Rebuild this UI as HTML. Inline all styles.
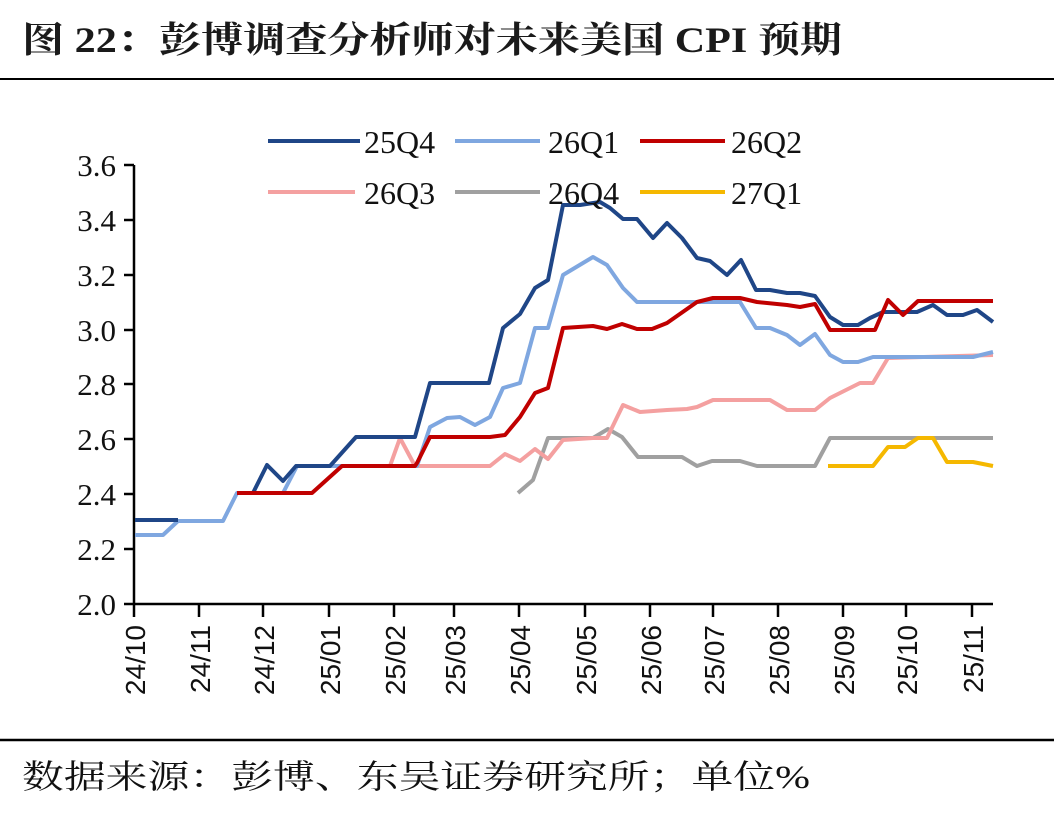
<!DOCTYPE html>
<html><head><meta charset="utf-8"><style>
body{margin:0;background:#fff;}
svg{display:block}
</style></head><body>
<svg width="1054" height="814" viewBox="0 0 1054 814" xmlns="http://www.w3.org/2000/svg">
<rect width="1054" height="814" fill="#fff"/>
<text x="22" y="52" font-family="'Liberation Serif','Noto Serif CJK SC',serif" font-size="36" font-weight="bold" fill="#1a1a1a" textLength="820" lengthAdjust="spacingAndGlyphs">图 22：彭博调查分析师对未来美国 CPI 预期</text>
<line x1="0" y1="79" x2="1054" y2="79" stroke="#000" stroke-width="2"/>
<line x1="0" y1="740" x2="1054" y2="740" stroke="#000" stroke-width="2.5"/>
<text x="22" y="788" font-family="'Liberation Serif','Noto Serif CJK SC',serif" font-size="33" fill="#111" textLength="788" lengthAdjust="spacingAndGlyphs">数据来源：彭博、东吴证券研究所；单位%</text>
<g font-family="'Liberation Serif',serif" font-size="31" fill="#111" text-anchor="end">
<text x="116" y="615">2.0</text><text x="116" y="560">2.2</text><text x="116" y="505">2.4</text><text x="116" y="450">2.6</text><text x="116" y="395">2.8</text><text x="116" y="341">3.0</text><text x="116" y="286">3.2</text><text x="116" y="231">3.4</text><text x="116" y="176">3.6</text>
</g>
<g stroke="#000" stroke-width="2.5">
<line x1="134" y1="165" x2="134" y2="605"/>
<line x1="124" y1="604" x2="993" y2="604"/>
<line x1="124" y1="549" x2="134" y2="549"/><line x1="124" y1="494" x2="134" y2="494"/><line x1="124" y1="439" x2="134" y2="439"/><line x1="124" y1="384" x2="134" y2="384"/><line x1="124" y1="330" x2="134" y2="330"/><line x1="124" y1="275" x2="134" y2="275"/><line x1="124" y1="220" x2="134" y2="220"/><line x1="124" y1="165" x2="134" y2="165"/>
<line x1="134" y1="604" x2="134" y2="617"/><line x1="199" y1="604" x2="199" y2="617"/><line x1="263" y1="604" x2="263" y2="617"/><line x1="329" y1="604" x2="329" y2="617"/><line x1="394" y1="604" x2="394" y2="617"/><line x1="454" y1="604" x2="454" y2="617"/><line x1="519" y1="604" x2="519" y2="617"/><line x1="585" y1="604" x2="585" y2="617"/><line x1="650" y1="604" x2="650" y2="617"/><line x1="713" y1="604" x2="713" y2="617"/><line x1="778" y1="604" x2="778" y2="617"/><line x1="843" y1="604" x2="843" y2="617"/><line x1="906" y1="604" x2="906" y2="617"/><line x1="972" y1="604" x2="972" y2="617"/>
</g>
<g font-family="'Liberation Sans',sans-serif" font-size="28" fill="#111" text-anchor="end">
<text transform="translate(145,625) rotate(-90)">24/10</text>
<text transform="translate(210,625) rotate(-90)">24/11</text>
<text transform="translate(274,625) rotate(-90)">24/12</text>
<text transform="translate(340,625) rotate(-90)">25/01</text>
<text transform="translate(405,625) rotate(-90)">25/02</text>
<text transform="translate(465,625) rotate(-90)">25/03</text>
<text transform="translate(530,625) rotate(-90)">25/04</text>
<text transform="translate(596,625) rotate(-90)">25/05</text>
<text transform="translate(661,625) rotate(-90)">25/06</text>
<text transform="translate(724,625) rotate(-90)">25/07</text>
<text transform="translate(789,625) rotate(-90)">25/08</text>
<text transform="translate(854,625) rotate(-90)">25/09</text>
<text transform="translate(917,625) rotate(-90)">25/10</text>
<text transform="translate(983,625) rotate(-90)">25/11</text>
</g>
<g fill="none" stroke-width="4" stroke-linejoin="round">
<polyline stroke="#a0a0a0" points="518,493 533,480 548,438 593,438 608,429 622,437 638,457 682,457 697,466 712,461 740,461 757,466 815,466 830,438 993,438"/>
<polyline stroke="#f5b800" points="828,466 873,466 888,447 905,447 918,438 933,438 947,462 973,462 993,466"/>
<polyline stroke="#f4a0a0" points="343,466 390,466 400,438 415,466 490,466 505,454 520,461 535,449 548,459 563,440 593,438 607,438 623,405 640,412 667,410 687,409 697,407 713,400 770,400 787,410 815,410 830,398 860,383 873,383 888,358 993,355"/>
<polyline stroke="#7fa7e0" points="135,535 163,535 178,521 223,521 237,493 283,493 297,466 333,466 417,466 430,427 447,418 460,417 475,425 490,417 503,388 520,383 535,328 548,328 563,275 593,257 607,265 623,288 637,302 740,302 756,328 770,328 787,335 800,345 815,334 830,355 843,362 858,362 873,357 973,357 993,352"/>
<polyline stroke="#1f4687" points="135,520 178,520"/>
<polyline stroke="#1f4687" points="237,493 253,493 267,465 283,481 296,466 330,466 356,437 415,437 430,383 489,383 503,328 520,314 535,288 548,280 563,205 580,205 600,202 610,208 623,219 637,219 653,238 667,223 682,238 697,258 710,261 727,275 741,260 756,290 770,290 787,293 800,293 815,296 830,317 843,325 858,325 870,318 883,312 917,312 933,305 947,315 963,315 977,310 993,322"/>
<polyline stroke="#c00000" points="237,493 312,493 342,466 415,466 417,463 430,437 490,437 505,435 520,417 535,393 548,388 563,328 593,326 607,329 622,324 637,329 652,329 667,323 697,302 713,298 740,298 757,302 787,305 800,307 815,304 830,330 875,330 888,300 903,315 918,301 993,301"/>
</g>
<g stroke-width="4">
<line x1="268" y1="141" x2="360" y2="141" stroke="#1f4687"/>
<line x1="455" y1="141" x2="540" y2="141" stroke="#7fa7e0"/>
<line x1="640" y1="141" x2="725" y2="141" stroke="#c00000"/>
<line x1="268" y1="192" x2="355" y2="192" stroke="#f4a0a0"/>
<line x1="455" y1="192" x2="540" y2="192" stroke="#a0a0a0"/>
<line x1="640" y1="192" x2="725" y2="192" stroke="#f5b800"/>
</g>
<g font-family="'Liberation Serif',serif" font-size="32" fill="#111">
<text x="364" y="153">25Q4</text><text x="548" y="153">26Q1</text><text x="731" y="153">26Q2</text>
<text x="364" y="204">26Q3</text><text x="548" y="204">26Q4</text><text x="731" y="204">27Q1</text>
</g>
</svg>
</body></html>
